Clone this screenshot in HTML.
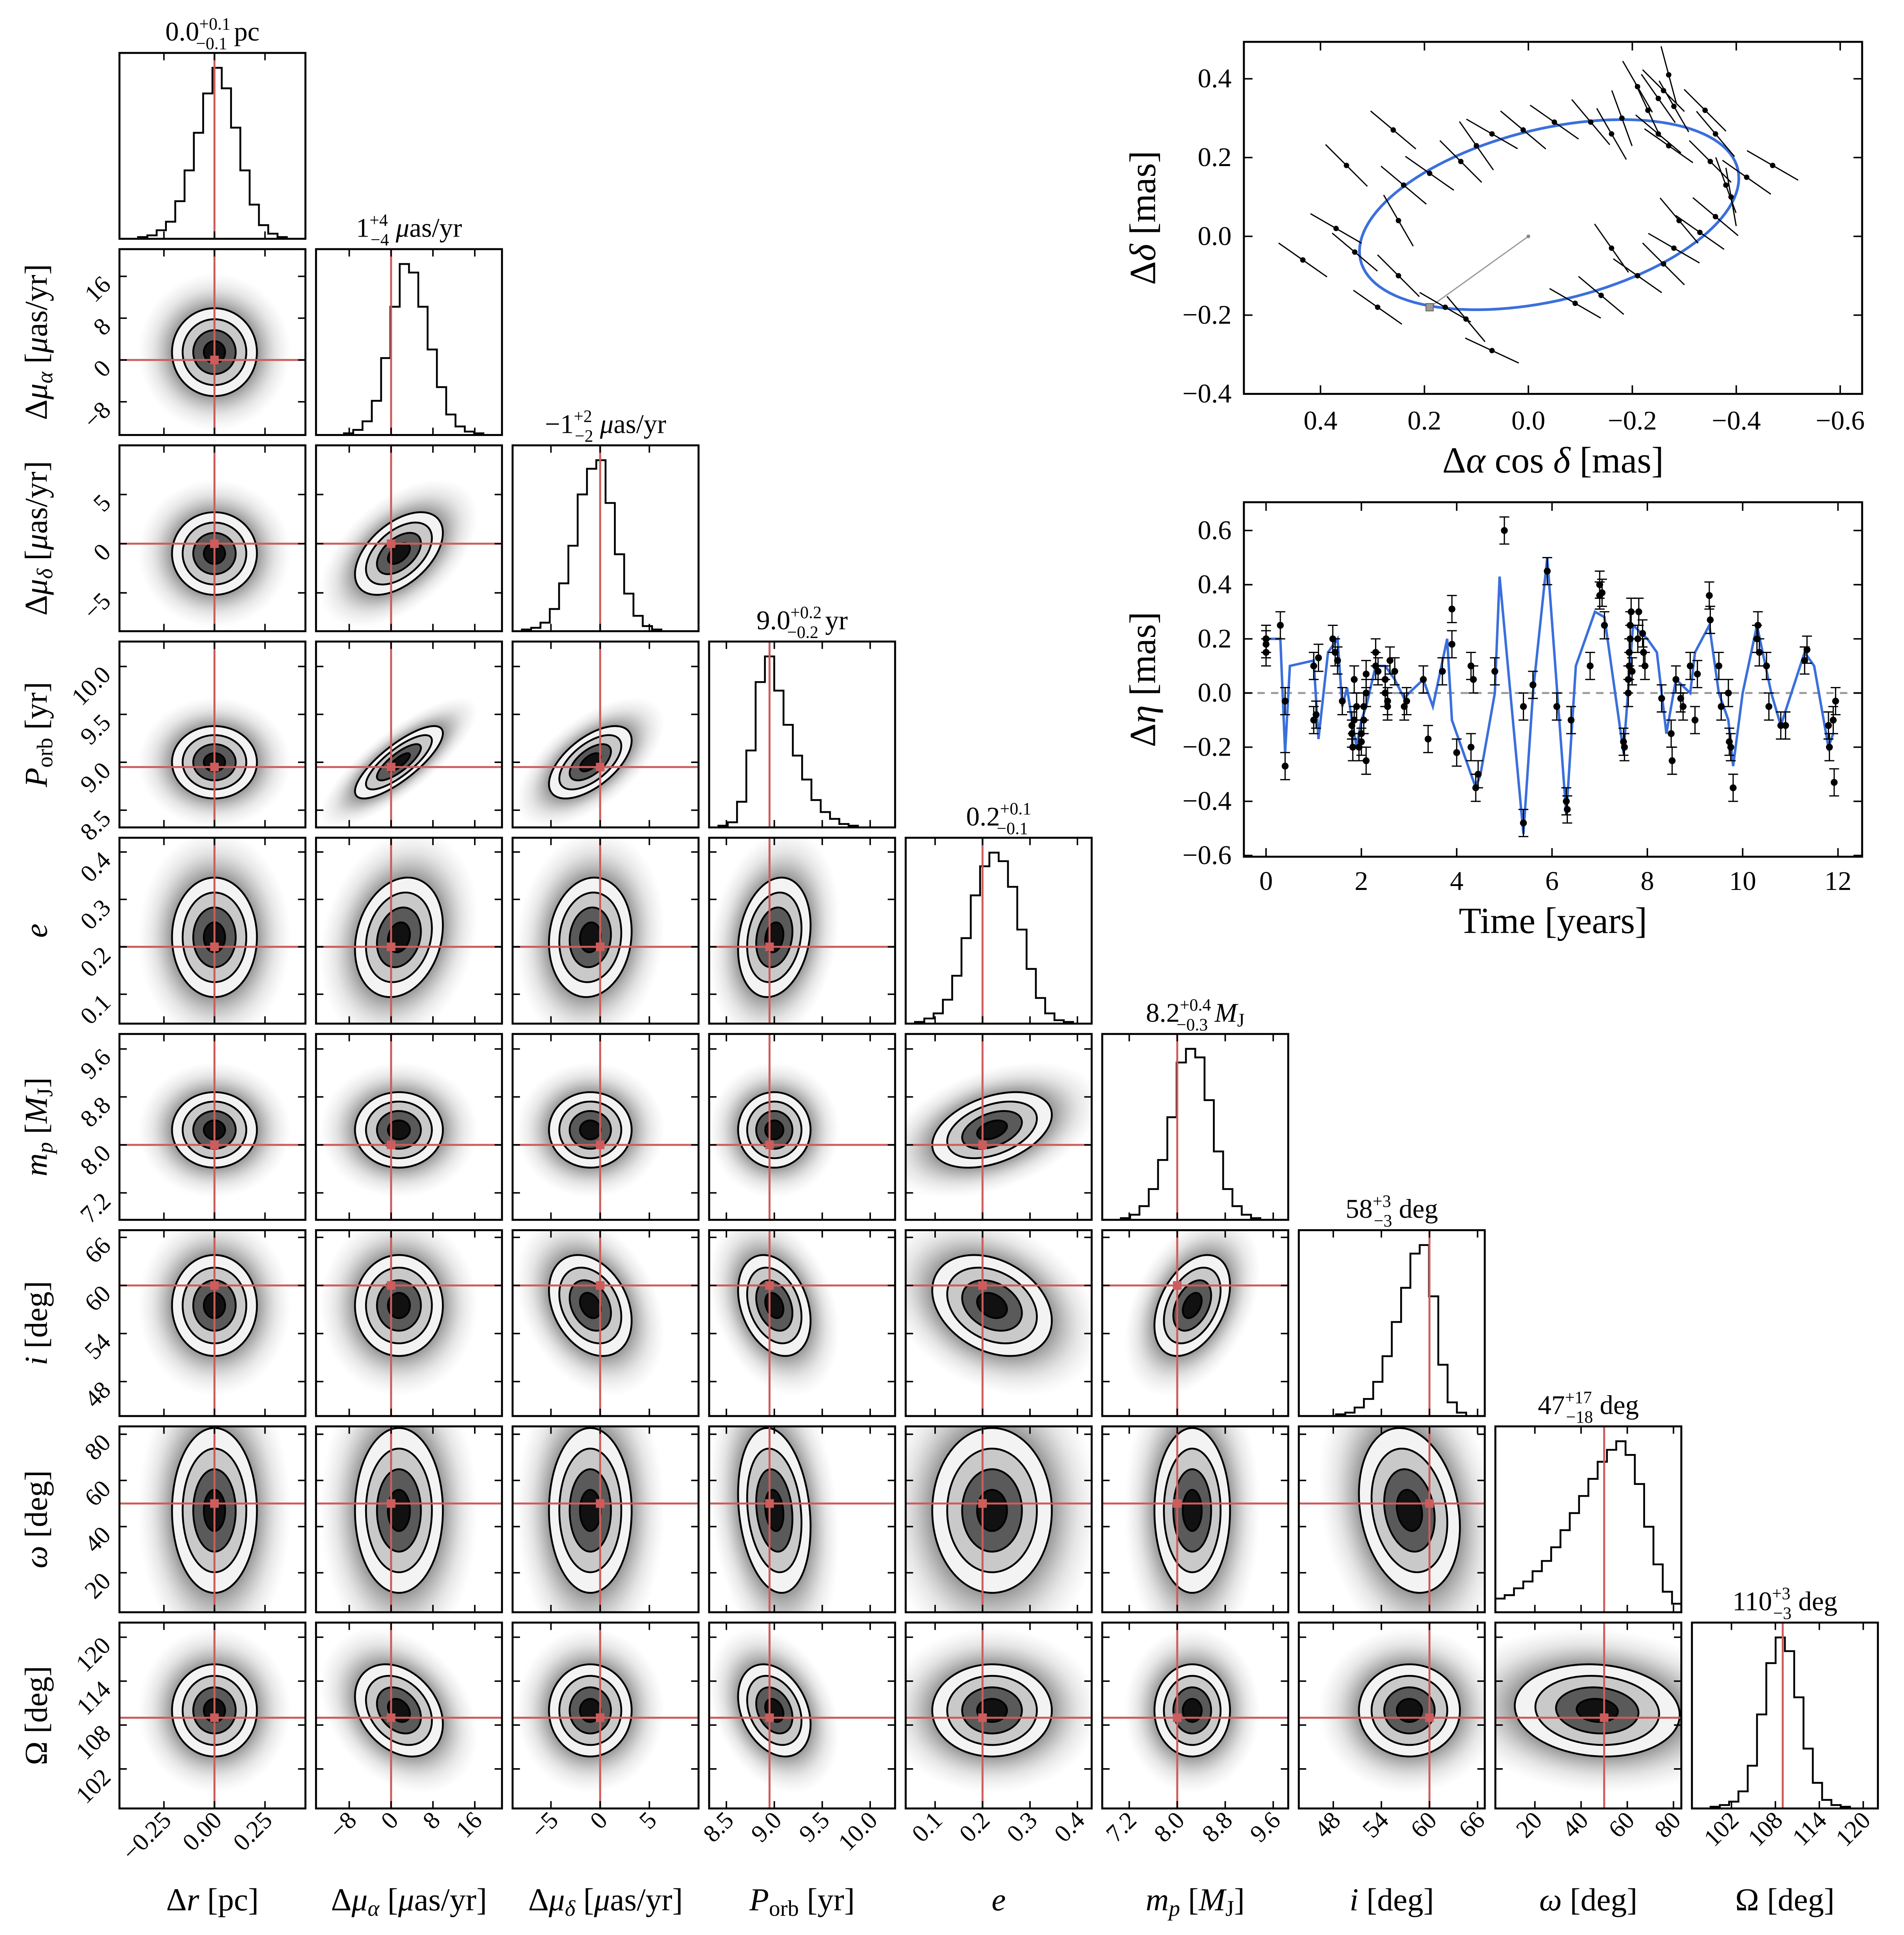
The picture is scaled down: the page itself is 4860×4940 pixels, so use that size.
<!DOCTYPE html>
<html><head><meta charset="utf-8"><style>
html,body{margin:0;padding:0;background:#fff;}
svg{display:block;font-family:"Liberation Serif",serif;}
</style></head>
<body>
<svg id="chart" xmlns="http://www.w3.org/2000/svg" width="4860" height="4940" viewBox="0 0 1546 1572" preserveAspectRatio="none">
<defs>
<radialGradient id="halo" cx="0.5" cy="0.5" r="0.5">
<stop offset="0" stop-color="#555" stop-opacity="0.8"/>
<stop offset="0.55" stop-color="#5a5a5a" stop-opacity="0.65"/>
<stop offset="0.8" stop-color="#999" stop-opacity="0.25"/>
<stop offset="1" stop-color="#bbb" stop-opacity="0"/>
</radialGradient>
</defs>
<rect x="0" y="0" width="1546" height="1572" fill="#fff"/>
</svg>
<script>
// ---------- corner data ----------
const paramLo=[-0.47,-14.35,-8.9,8.32,0.038,6.75,43.7,2.9,96.6];
const paramHi=[0.45,21.2,10.0,10.26,0.43,9.85,66.9,83.4,122.0];
const truths=[0,0,0,8.95,0.2,8.0,60,50,109];
const medians=[0,1.5,-1,9.0,0.22,8.25,57.5,47,110];
const sigmas=[0.1,4,2,0.18,0.06,0.3,3,17,3];
const corrValues=[[2,1,0.5],[3,1,0.8],[3,2,0.6],[4,1,0.2],[4,2,0.1],[4,3,0.2],[5,4,0.4],
 [6,2,-0.3],[6,3,-0.3],[6,4,-0.3],[6,5,0.4],[7,3,-0.2],[7,6,-0.2],[8,1,-0.3],[8,3,-0.3],[8,7,-0.1]];
const ticks0=[-0.25,0,0.25], tickLabels0=["\u22120.25","0.00","0.25"];
const ticks1=[-8,0,8,16], tickLabels1=["\u22128","0","8","16"];
const ticks2=[-5,0,5], tickLabels2=["\u22125","0","5"];
const ticks3=[8.5,9.0,9.5,10.0], tickLabels3=["8.5","9.0","9.5","10.0"];
const ticks4=[0.1,0.2,0.3,0.4], tickLabels4=["0.1","0.2","0.3","0.4"];
const ticks5=[7.2,8.0,8.8,9.6], tickLabels5=["7.2","8.0","8.8","9.6"];
const ticks6=[48,54,60,66], tickLabels6=["48","54","60","66"];
const ticks7=[20,40,60,80], tickLabels7=["20","40","60","80"];
const ticks8=[102,108,114,120], tickLabels8=["102","108","114","120"];
const hist0=[0,0,1,2,5,10,22,40,62,85,100,88,65,40,20,8,3,1,0,0];
const hist1=[0,0,0,1,3,8,20,45,75,100,95,75,50,28,12,5,2,1,0,0];
const hist2=[0,1,2,5,13,28,50,80,95,100,75,45,22,9,3,1,0,0,0,0];
const hist3=[0,1,3,15,45,85,100,80,60,42,28,16,9,5,2,1,0,0,0,0];
const hist4=[0,1,3,6,14,28,50,75,92,100,95,80,55,32,15,6,2,1,0,0];
const hist5=[0,0,1,3,8,18,35,60,92,100,95,70,40,18,8,3,1,0,0,0];
const hist6=[0,0,0,0,1,2,5,10,20,35,55,75,95,100,70,30,8,2,0,0];
const hist7=[8,10,14,18,24,30,38,48,58,68,78,88,95,100,92,75,50,28,12,5];
const hist8=[0,0,1,2,4,10,25,55,85,100,92,65,35,15,5,2,1,0,0,0];
const titleMain=["0.0","1","\u22121","9.0","0.2","8.2","58","47","110"];
const titlePlus=["+0.1","+4","+2","+0.2","+0.1","+0.4","+3","+17","+3"];
const titleMinus=["\u22120.1","\u22124","\u22122","\u22120.2","\u22120.1","\u22120.3","\u22123","\u221218","\u22123"];
const titleUnit=[" pc"," <tspan font-style='italic'>\u03bc</tspan>as/yr"," <tspan font-style='italic'>\u03bc</tspan>as/yr"," yr",""," <tspan font-style='italic'>M</tspan><tspan baseline-shift='-25%' font-size='70%'>J</tspan>"," deg"," deg"," deg"];
const axisNames=["\u0394<tspan font-style='italic'>r</tspan> [pc]",
 "\u0394<tspan font-style='italic'>\u03bc</tspan><tspan baseline-shift='-25%' font-size='70%' font-style='italic'>\u03b1</tspan> [<tspan font-style='italic'>\u03bc</tspan>as/yr]",
 "\u0394<tspan font-style='italic'>\u03bc</tspan><tspan baseline-shift='-25%' font-size='70%' font-style='italic'>\u03b4</tspan> [<tspan font-style='italic'>\u03bc</tspan>as/yr]",
 "<tspan font-style='italic'>P</tspan><tspan baseline-shift='-25%' font-size='70%'>orb</tspan> [yr]",
 "<tspan font-style='italic'>e</tspan>",
 "<tspan font-style='italic'>m</tspan><tspan baseline-shift='-25%' font-size='70%' font-style='italic'>p</tspan> [<tspan font-style='italic'>M</tspan><tspan baseline-shift='-25%' font-size='70%'>J</tspan>]",
 "<tspan font-style='italic'>i</tspan> [deg]",
 "<tspan font-style='italic'>\u03c9</tspan> [deg]",
 "\u03a9 [deg]"];
const paramIds=["delta-r","delta-mu-alpha","delta-mu-delta","p-orb","e","m-p","i","omega","big-omega"];
// ---------- orbit data ----------
const orbitCenter=[-0.04,0.055], orbitAxisA=[0.36,-0.055], orbitAxisB=[-0.06,0.235];
const obsRA=[0.434,0.334,0.37,0.25,0.25,0.29,0.16,0.07,0.12,0.24,0.19,0.13,0.10,0.07,0.01,-0.05,-0.12,-0.16,-0.18,-0.23,-0.25,-0.26,-0.27,-0.28,-0.25,-0.27,-0.34,-0.36,-0.38,-0.39,-0.36,-0.33,-0.28,-0.26,-0.21,-0.14,-0.09,-0.16,-0.35,-0.42,-0.47,-0.21,0.26,0.35,-0.29];
const obsDec=[-0.06,-0.04,0.02,0.04,-0.10,-0.18,-0.18,-0.29,-0.21,0.13,0.16,0.19,0.23,0.26,0.27,0.29,0.29,0.26,0.30,0.32,0.35,0.37,0.41,0.33,0.26,0.23,0.32,0.26,0.13,0.10,0.05,0.01,-0.03,-0.07,-0.10,-0.15,-0.17,-0.03,0.19,0.15,0.18,0.38,0.27,0.18,0.04];
const scanAngle=[35,40,30,60,45,35,30,25,50,40,35,45,55,30,40,35,50,60,70,65,55,45,75,60,40,35,45,50,70,80,40,35,30,45,35,40,30,55,45,35,30,60,40,45,50];
const raTicks=[0.4,0.2,0.0,-0.2,-0.4,-0.6], raTickLabels=["0.4","0.2","0.0","\u22120.2","\u22120.4","\u22120.6"];
const decTicks=[0.4,0.2,0.0,-0.2,-0.4], decTickLabels=["0.4","0.2","0.0","\u22120.2","\u22120.4"];
// ---------- residual time series ----------
const obsTime=[0,0,0,0,0.3,0.4,0.4,1.0,1.0,1.05,1.1,1.4,1.45,1.5,1.6,1.8,1.8,1.82,1.85,1.85,1.9,1.95,2.0,2.0,2.05,2.05,2.1,2.1,2.1,2.3,2.3,2.35,2.5,2.5,2.55,2.55,2.6,2.7,2.9,2.95,3.3,3.4,3.7,3.9,3.9,4.0,4.3,4.3,4.35,4.4,4.45,4.8,5.0,5.4,5.4,5.6,5.9,6.1,6.3,6.32,6.4,6.8,7.0,7.0,7.05,7.1,7.5,7.52,7.6,7.6,7.62,7.62,7.64,7.64,7.66,7.68,7.8,7.82,7.9,7.92,7.95,8.3,8.5,8.52,8.6,8.7,8.75,8.9,9.0,9.05,9.3,9.32,9.5,9.55,9.7,9.72,9.75,9.8,10.3,10.32,10.35,10.5,10.55,10.8,10.9,11.3,11.35,11.8,11.82,11.9,11.92,11.95];
const obsEta=[0.2,0.18,0.15,0.2,0.25,-0.27,-0.03,0.1,-0.1,-0.08,0.13,0.2,0.15,0.12,-0.03,-0.15,-0.12,-0.2,-0.1,0.05,-0.05,-0.2,-0.18,-0.15,-0.1,-0.05,0.0,0.07,-0.25,0.15,0.1,0.08,0.05,0.0,-0.03,-0.05,0.12,0.08,-0.05,-0.03,0.05,-0.17,0.08,0.31,0.18,-0.22,0.1,-0.2,0.05,-0.35,-0.3,0.08,0.6,-0.48,-0.05,0.03,0.45,-0.05,-0.4,-0.43,-0.1,0.1,0.4,0.36,0.37,0.25,-0.18,-0.2,0.0,0.05,0.1,0.15,0.2,0.25,0.3,0.08,0.2,0.3,0.22,0.15,0.1,-0.02,-0.15,-0.25,0.05,-0.02,-0.05,0.1,-0.1,0.07,0.36,0.27,0.1,-0.05,0.0,-0.18,-0.2,-0.35,0.2,0.25,0.15,0.1,-0.05,-0.12,-0.12,0.12,0.16,-0.12,-0.2,-0.1,-0.33,-0.03];
const modelTime=[0,0.3,0.4,0.5,1.0,1.1,1.3,1.5,1.6,1.7,1.8,1.9,2.0,2.1,2.3,2.5,2.7,2.9,3.0,3.3,3.5,3.8,3.9,4.0,4.4,4.5,4.8,4.9,5.4,5.6,5.9,6.3,6.5,6.9,7.1,7.5,7.7,8.0,8.2,8.4,8.6,8.9,9.0,9.3,9.5,9.7,9.8,10.0,10.3,10.6,10.8,11.3,11.5,11.8,11.9];
const modelEta=[0.2,0.2,-0.22,0.1,0.12,-0.17,0.15,0.2,-0.05,0.02,-0.1,-0.2,-0.1,-0.05,0.1,0.1,0.05,-0.02,0.0,0.05,-0.05,0.2,-0.1,-0.15,-0.35,-0.3,0.0,0.43,-0.52,0.0,0.5,-0.45,0.1,0.3,0.28,-0.22,0.25,0.2,0.15,-0.15,0.05,0.0,0.15,0.25,0.0,-0.1,-0.27,0.0,0.25,0.0,-0.12,0.15,0.1,-0.2,-0.15];
const timeTicks=[0,2,4,6,8,10,12], timeTickLabels=["0","2","4","6","8","10","12"];
const etaTicks=[0.6,0.4,0.2,0.0,-0.2,-0.4,-0.6], etaTickLabels=["0.6","0.4","0.2","0.0","\u22120.2","\u22120.4","\u22120.6"];

const NS='http://www.w3.org/2000/svg';
const svg=document.getElementById('chart');
function mk(tag,attrs,parent){const e=document.createElementNS(NS,tag);for(const k in attrs)e.setAttribute(k,attrs[k]);(parent||svg).appendChild(e);return e;}
const tickSets=[ticks0,ticks1,ticks2,ticks3,ticks4,ticks5,ticks6,ticks7,ticks8];
const tickLabelSets=[tickLabels0,tickLabels1,tickLabels2,tickLabels3,tickLabels4,tickLabels5,tickLabels6,tickLabels7,tickLabels8];
const hists=[hist0,hist1,hist2,hist3,hist4,hist5,hist6,hist7,hist8];
const RED='#cd5c5c';
const W=151,H=151;
function colL(c){return 97+159.6*c;}
function rowT(r){return 43+159.4*r;}
function xs(p,v){return colL(p)+(v-paramLo[p])/(paramHi[p]-paramLo[p])*W;}
function ys(r,p,v){return rowT(r)+H-(v-paramLo[p])/(paramHi[p]-paramLo[p])*H;}
function corrOf(i,j){for(const c of corrValues){if((c[0]===i&&c[1]===j)||(c[0]===j&&c[1]===i))return c[2];}return 0;}

for(let r=0;r<9;r++){
 for(let c=0;c<=r;c++){
  const L=colL(c),T=rowT(r);
  const g=mk('g',{});
  
  
  const cp=mk('clipPath',{id:'cp'+r+'_'+c},g);
  mk('rect',{x:L,y:T,width:W,height:H},cp);
  const inner=mk('g',{'clip-path':'url(#cp'+r+'_'+c+')'},g);
  if(r===c){
   const h=hists[c];const mx=Math.max(...h);const n=h.length;const bw=W/n;
   let d='M'+L+','+(T+H);
   for(let k=0;k<n;k++){const y=T+H-h[k]/mx*H*0.92;d+=' L'+(L+k*bw)+','+y+' L'+(L+(k+1)*bw)+','+y;}
   d+=' L'+(L+W)+','+(T+H);
   const hp=mk('path',{d:d,fill:'none',stroke:'#000','stroke-width':1.5},inner);
   
   
   const tl=mk('line',{x1:xs(c,truths[c]),x2:xs(c,truths[c]),y1:T,y2:T+H,stroke:RED,'stroke-width':1.6},inner);
   
   
   const tt=mk('text',{x:L+W/2,y:T-10,'text-anchor':'middle','font-size':22},g);
   tt.innerHTML=titleMain[c]+"<tspan font-size='14' dy='-9'>"+titlePlus[c]+"</tspan><tspan font-size='14' dx='-"+(titlePlus[c].length*7)+"' dy='16'>"+titleMinus[c]+"</tspan><tspan dy='-7'>"+titleUnit[c]+"</tspan>";
   
   
  } else {
   const cx=xs(c,medians[c]),cy=ys(r,r,medians[r]);
   const sx=sigmas[c]/(paramHi[c]-paramLo[c])*W, sy=sigmas[r]/(paramHi[r]-paramLo[r])*H;
   const rho=-corrOf(r,c);
   const a=sx*sx,cc=sy*sy,b=rho*sx*sy;
   const th=0.5*Math.atan2(2*b,a-cc);
   const m=Math.sqrt(((a-cc)/2)**2+b*b);
   const l1=Math.sqrt((a+cc)/2+m)*1.05,l2=Math.sqrt(Math.max((a+cc)/2-m,1e-6))*1.05;
   const rot='rotate('+(th*180/Math.PI)+' '+cx+' '+cy+')';
   const halo=mk('ellipse',{cx:cx,cy:cy,rx:l1*3.6,ry:l2*3.6,fill:'url(#halo)',transform:rot},inner);
   
   
   const levels=[2,1.5,1,0.5],fills=['#f3f3f3','#c9c9c9','#5a5a5a','#111'];
   for(let k=0;k<4;k++){
    const el=mk('ellipse',{cx:cx,cy:cy,rx:l1*levels[k],ry:l2*levels[k],fill:fills[k],stroke:'#000','stroke-width':1.5,transform:rot},inner);
    
    
   }
   const tx=xs(c,truths[c]),ty=ys(r,r,truths[r]);
   const v=mk('line',{x1:tx,x2:tx,y1:T,y2:T+H,stroke:RED,'stroke-width':1.6},inner);
   
   
   const hl=mk('line',{x1:L,x2:L+W,y1:ty,y2:ty,stroke:RED,'stroke-width':1.6},inner);
   
   
   const sq=mk('rect',{x:tx-3.5,y:ty-3.5,width:7,height:7,fill:RED},inner);
   
   
   tickSets[r].forEach((tv,k)=>{const y=ys(r,r,tv);
    const t1=mk('path',{d:'M'+L+','+y+' h6 M'+(L+W)+','+y+' h-6',stroke:'#000','stroke-width':1.2},g);
    
    
    if(c===0){const lb=mk('text',{x:91,y:y+8,'text-anchor':'end','font-size':20,transform:'rotate(-45 91 '+(y+8)+')'},g);
     lb.textContent=tickLabelSets[r][k];
     
     }
   });
  }
  tickSets[c].forEach((tv,k)=>{const x=xs(c,tv);
   const t2=mk('path',{d:'M'+x+','+(T+H)+' v-6 M'+x+','+T+' v6',stroke:'#000','stroke-width':1.2},g);
   
   
   if(r===8){const lb=mk('text',{x:x+7,y:1480,'text-anchor':'end','font-size':20,transform:'rotate(-45 '+(x+7)+' 1480)'},g);
    lb.textContent=tickLabelSets[c][k];
    
    }
  });
  const fr=mk('rect',{x:L,y:T,width:W,height:H,fill:'none',stroke:'#000','stroke-width':1.6},g);
  
  
 }
}
for(let p=0;p<9;p++){
 const xl=mk('text',{x:colL(p)+W/2,y:1552,'text-anchor':'middle','font-size':26});
 xl.innerHTML=axisNames[p];
 
 
 if(p>0){const cy=rowT(p)+H/2;
  const yl=mk('text',{x:38,y:cy,'text-anchor':'middle','font-size':26,transform:'rotate(-90 38 '+cy+')'});
  yl.innerHTML=axisNames[p];
  
  }
}

// ---------- orbit panel ----------
const OL=1010,OR=1512,OT=34,OB=320;
function ox(v){return 1241-v*422;}
function oy(v){return 192-v*320;}
const og=mk('g',{});


const ocp=mk('clipPath',{id:'ocp'},og);mk('rect',{x:OL,y:OT,width:OR-OL,height:OB-OT},ocp);
const oin=mk('g',{'clip-path':'url(#ocp)'},og);
let od='';
for(let k=0;k<=120;k++){const t=k/120*2*Math.PI;
 const vx=orbitCenter[0]+orbitAxisA[0]*Math.cos(t)+orbitAxisB[0]*Math.sin(t);
 const vy=orbitCenter[1]+orbitAxisA[1]*Math.cos(t)+orbitAxisB[1]*Math.sin(t);
 od+=(k?' L':'M')+ox(vx)+','+oy(vy);}
const orb=mk('path',{d:od+'Z',fill:'none',stroke:'#3a6fdc','stroke-width':2.2},oin);


const gl=mk('line',{x1:ox(0),y1:oy(0),x2:ox(0.19),y2:oy(-0.18),stroke:'#999','stroke-width':1},oin);


const gc=mk('circle',{cx:ox(0),cy:oy(0),r:1.5,fill:'#888'},oin);


const gs=mk('rect',{x:ox(0.19)-3,y:oy(-0.18)-3,width:6,height:6,fill:'#999',stroke:'#555','stroke-width':0.6},oin);


obsRA.forEach((ra,k)=>{const x=ox(ra),y=oy(obsDec[k]);const a=scanAngle[k]*Math.PI/180;const L2=24;
 const sl=mk('line',{x1:x-L2*Math.cos(a),y1:y-L2*Math.sin(a),x2:x+L2*Math.cos(a),y2:y+L2*Math.sin(a),stroke:'#000','stroke-width':1},oin);
 
 
 const pt=mk('circle',{cx:x,cy:y,r:2.2,fill:'#000'},oin);
 
 
});
raTicks.forEach((tv,k)=>{const x=ox(tv);
 const tk=mk('path',{d:'M'+x+','+OB+' v-7 M'+x+','+OT+' v7',stroke:'#000','stroke-width':1.2},og);
 
 
 const lb=mk('text',{x:x,y:OB+29,'text-anchor':'middle','font-size':22},og);
 lb.textContent=raTickLabels[k];
 
 });
decTicks.forEach((tv,k)=>{const y=oy(tv);
 const tk=mk('path',{d:'M'+OL+','+y+' h7 M'+OR+','+y+' h-7',stroke:'#000','stroke-width':1.2},og);
 
 
 const lb=mk('text',{x:OL-10,y:y+7,'text-anchor':'end','font-size':22},og);
 lb.textContent=decTickLabels[k];
 
 });
const ofr=mk('rect',{x:OL,y:OT,width:OR-OL,height:OB-OT,fill:'none',stroke:'#000','stroke-width':1.6},og);


const oxl=mk('text',{x:1261,y:384,'text-anchor':'middle','font-size':30},og);
oxl.innerHTML="\u0394<tspan font-style='italic'>\u03b1</tspan> cos <tspan font-style='italic'>\u03b4</tspan> [mas]";


const oyl=mk('text',{x:938,y:177,'text-anchor':'middle','font-size':30,transform:'rotate(-90 938 177)'},og);
oyl.innerHTML="\u0394<tspan font-style='italic'>\u03b4</tspan> [mas]";



// ---------- residual panel ----------
const RL=1010,RR=1512,RT=408,RB=696;
function rx(t){return 1028+t*38.7;}
function ry(v){return 563-v*220;}
const rg=mk('g',{});


const rcp=mk('clipPath',{id:'rcp'},rg);mk('rect',{x:RL,y:RT,width:RR-RL,height:RB-RT},rcp);
const rin=mk('g',{'clip-path':'url(#rcp)'},rg);
const zl=mk('line',{x1:RL,x2:RR,y1:ry(0),y2:ry(0),stroke:'#999','stroke-width':1.6,'stroke-dasharray':'6,5'},rin);


let md='';modelTime.forEach((t,k)=>{md+=(k?' L':'M')+rx(t)+','+ry(modelEta[k]);});
const ml=mk('path',{d:md,fill:'none',stroke:'#3a6fdc','stroke-width':2},rin);


obsTime.forEach((t,k)=>{const x=rx(t),y=ry(obsEta[k]),e=0.05*220;
 const eb=mk('path',{d:'M'+x+','+(y-e)+' V'+(y+e)+' M'+(x-4)+','+(y-e)+' h8 M'+(x-4)+','+(y+e)+' h8',stroke:'#000','stroke-width':1},rin);
 
 
 const pt=mk('circle',{cx:x,cy:y,r:2.8,fill:'#000'},rin);
 
 });
timeTicks.forEach((tv,k)=>{const x=rx(tv);
 const tk=mk('path',{d:'M'+x+','+RB+' v-7 M'+x+','+RT+' v7',stroke:'#000','stroke-width':1.2},rg);
 
 
 const lb=mk('text',{x:x,y:RB+27,'text-anchor':'middle','font-size':22},rg);
 lb.textContent=timeTickLabels[k];
 
 });
etaTicks.forEach((tv,k)=>{const y=ry(tv);
 const tk=mk('path',{d:'M'+RL+','+y+' h7 M'+RR+','+y+' h-7',stroke:'#000','stroke-width':1.2},rg);
 
 
 const lb=mk('text',{x:RL-10,y:y+7,'text-anchor':'end','font-size':22},rg);
 lb.textContent=etaTickLabels[k];
 
 });
const rfr=mk('rect',{x:RL,y:RT,width:RR-RL,height:RB-RT,fill:'none',stroke:'#000','stroke-width':1.6},rg);


const rxl=mk('text',{x:1261,y:758,'text-anchor':'middle','font-size':30},rg);
rxl.textContent='Time [years]';


const ryl=mk('text',{x:938,y:552,'text-anchor':'middle','font-size':30,transform:'rotate(-90 938 552)'},rg);
ryl.innerHTML="\u0394<tspan font-style='italic'>\u03b7</tspan> [mas]";


</script>
</body></html>
